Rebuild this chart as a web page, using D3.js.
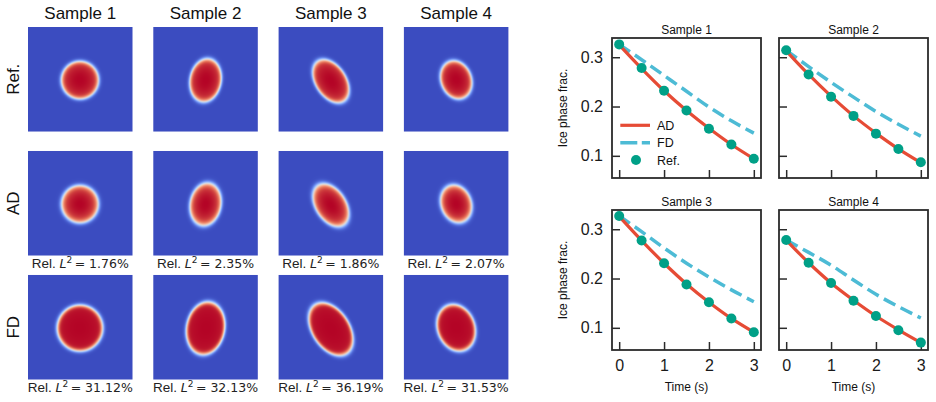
<!DOCTYPE html>
<html>
<head>
<meta charset="utf-8">
<script src="https://cdn.jsdelivr.net/npm/d3@7"></script>
<style>
body { margin: 0; background: #fff; }
svg { display: block; font-family: "Liberation Sans", Arial, Helvetica, sans-serif; }
</style>
</head>
<body>
<svg id="chart" width="936" height="402"></svg>
<script>
// ---- data ----
const samples = ['Sample 1', 'Sample 2', 'Sample 3', 'Sample 4'];
const methods = ['Ref.', 'AD', 'FD'];

// Rel. L2 errors (%) printed below the AD and FD rows
const errAD = ['1.76', '2.35', '1.86', '2.07'];
const errFD = ['31.12', '32.13', '36.19', '31.53'];

// ice region shape per sample (unit image coords, y down)
const centerX = [0.497, 0.500, 0.500, 0.500];
const centerY = [0.508, 0.510, 0.518, 0.505];
const tiltDeg = [0, -10, 33, 20];
const refMinor = [0.178, 0.149, 0.145, 0.146];
const refMajor = [0.180, 0.208, 0.228, 0.187];
const adMinor = [0.176, 0.148, 0.144, 0.145];
const adMajor = [0.179, 0.206, 0.226, 0.185];
const fdMinor = [0.217, 0.182, 0.177, 0.178];
const fdMajor = [0.220, 0.254, 0.278, 0.228];

// ice phase fraction vs time
const times = [0, 0.5, 1, 1.5, 2, 2.5, 3];
const refFrac = [
    [0.326, 0.278, 0.232, 0.192, 0.155, 0.123, 0.094],
    [0.314, 0.265, 0.220, 0.181, 0.145, 0.114, 0.087],
    [0.327, 0.277, 0.231, 0.188, 0.152, 0.119, 0.091],
    [0.278, 0.232, 0.191, 0.155, 0.124, 0.095, 0.070]
];
const adFrac = [
    [0.325, 0.277, 0.232, 0.192, 0.156, 0.123, 0.094],
    [0.313, 0.265, 0.221, 0.181, 0.146, 0.114, 0.086],
    [0.326, 0.277, 0.231, 0.189, 0.152, 0.119, 0.091],
    [0.278, 0.232, 0.191, 0.156, 0.124, 0.096, 0.070]
];
const fdFrac = [
    [0.326, 0.295, 0.263, 0.231, 0.199, 0.171, 0.146],
    [0.314, 0.281, 0.249, 0.219, 0.190, 0.164, 0.140],
    [0.327, 0.295, 0.262, 0.231, 0.203, 0.177, 0.153],
    [0.278, 0.253, 0.227, 0.197, 0.168, 0.143, 0.120]
];

const yTicks = [0.1, 0.2, 0.3];
const xTicks = [0, 1, 2, 3];

// ---- styles ----
const coolwarm = ['#3b4cc0', '#6282ea', '#8db0fe', '#b8d0f9', '#dddddd',
                  '#f5c4ad', '#f49a7b', '#de604d', '#b40426'];
const cAD = '#e64b35', cFD = '#4dbbd5', cRef = '#00a087';
const ink = '#2b2b2b';

const svg = d3.select('#chart');

// ==== left: field images ====
const colBand = d3.scaleBand().domain(samples).range([28, 508.4]).paddingInner(0.166);
const rowBand = d3.scaleBand().domain(methods).range([27, 379.5]).paddingInner(0.157);
const bw = colBand.bandwidth(), bh = rowBand.bandwidth();

const colorScale = d3.scaleLinear()
    .domain(d3.range(coolwarm.length).map(i => i / (coolwarm.length - 1)))
    .range(coolwarm)
    .interpolate(d3.interpolateRgb)
    .clamp(true);

const shapeFor = (m, i) => {
    if (m === 'Ref.') return { a: refMinor[i], b: refMajor[i], eps: 0.020, drop: 0.10 };
    if (m === 'AD') return { a: adMinor[i], b: adMajor[i], eps: 0.023, drop: 0.14 };
    return { a: fdMinor[i], b: fdMajor[i], eps: 0.020, drop: 0.03 };
};

// phase field on an n x n grid, painted cell by cell
const fieldImage = (m, i) => {
    const n = 210;
    const cell = d3.scaleLinear().domain([0, n]).range([0, 1]);
    const s = shapeFor(m, i);
    const th = tiltDeg[i] * Math.PI / 180;
    const R = Math.sqrt(s.a * s.b);
    const canvas = document.createElement('canvas');
    canvas.width = n; canvas.height = n;
    const ctx = canvas.getContext('2d');
    const img = ctx.createImageData(n, n);
    for (let yi = 0; yi < n; yi++) {
        for (let xi = 0; xi < n; xi++) {
            const dx = cell(xi + 0.5) - centerX[i];
            const dy = cell(yi + 0.5) - centerY[i];
            const u = dx * Math.cos(th) - dy * Math.sin(th);
            const v = dx * Math.sin(th) + dy * Math.cos(th);
            const r = Math.sqrt((u / s.a) ** 2 + (v / s.b) ** 2);
            const phi = 0.5 * (1 - Math.tanh((r - 1) * R / s.eps));
            const val = phi * (1 - s.drop * Math.min(r, 1.2) ** 2);
            const c = d3.rgb(colorScale(val));
            const k = (yi * n + xi) * 4;
            img.data[k] = c.r; img.data[k + 1] = c.g; img.data[k + 2] = c.b; img.data[k + 3] = 255;
        }
    }
    ctx.putImageData(img, 0, 0);
    return canvas.toDataURL();
};

const gLeft = svg.append('g');

methods.forEach(m => {
    samples.forEach((smp, i) => {
        gLeft.append('image')
            .attr('x', colBand(smp))
            .attr('y', rowBand(m))
            .attr('width', bw)
            .attr('height', bh)
            .attr('preserveAspectRatio', 'none')
            .attr('href', fieldImage(m, i));
    });
});

// column titles
gLeft.selectAll('.col-title')
    .data(samples)
    .join('text')
    .attr('class', 'col-title')
    .attr('x', d => colBand(d) + bw / 2)
    .attr('y', 19)
    .attr('text-anchor', 'middle')
    .attr('font-size', 17)
    .attr('fill', '#111')
    .text(d => d);

// row labels
gLeft.selectAll('.row-title')
    .data(methods)
    .join('text')
    .attr('class', 'row-title')
    .attr('transform', d => `translate(19,${rowBand(d) + bh / 2}) rotate(-90)`)
    .attr('text-anchor', 'middle')
    .attr('font-size', 17)
    .attr('fill', '#111')
    .text(d => d);

// Rel. L2 labels
const errLabel = (vals, baseY) => {
    samples.forEach((smp, i) => {
        const t = gLeft.append('text')
            .attr('x', colBand(smp) + bw / 2)
            .attr('y', baseY)
            .attr('text-anchor', 'middle')
            .attr('font-size', 13.5)
            .attr('fill', '#222');
        t.append('tspan').text('Rel. ');
        t.append('tspan')
            .attr('font-family', '"DejaVu Sans", sans-serif')
            .attr('font-style', 'italic')
            .attr('font-size', 12.5)
            .text('L');
        t.append('tspan')
            .attr('font-family', '"DejaVu Sans", sans-serif')
            .attr('font-size', 9)
            .attr('dy', -5)
            .text('2');
        t.append('tspan')
            .attr('font-family', '"DejaVu Sans", sans-serif')
            .attr('font-size', 12.5)
            .attr('dy', 5)
            .text('\u2009= ' + vals[i] + '%');
    });
};
errLabel(errAD, 268);
errLabel(errFD, 392);

// ==== right: ice phase fraction curves ====
const pw = 149, ph = 140;
const panelX = [612, 779];
const panelY = [38, 210];

const x = d3.scaleLinear().domain([-0.16, 3.16]).range([0, pw]);
const y = d3.scaleLinear().domain([0.055, 0.339]).range([ph, 0]);

const line = d3.line()
    .x(d => x(d.t))
    .y(d => y(d.v))
    .curve(d3.curveMonotoneX);

samples.forEach((smp, i) => {
    const col = i % 2, row = Math.floor(i / 2);
    const g = svg.append('g')
        .attr('transform', `translate(${panelX[col]},${panelY[row]})`);

    // y axis
    const ya = g.append('g')
        .call(d3.axisLeft(y)
            .tickValues(yTicks)
            .tickSizeInner(-8)
            .tickSizeOuter(0)
            .tickPadding(9)
            .tickFormat(col === 0 ? d3.format('.1f') : ''));
    // x axis
    const xa = g.append('g')
        .attr('transform', `translate(0,${ph})`)
        .call(d3.axisBottom(x)
            .tickValues(xTicks)
            .tickSizeInner(-8)
            .tickSizeOuter(0)
            .tickPadding(10)
            .tickFormat(row === 1 ? d3.format('d') : ''));
    [ya, xa].forEach(a => {
        a.select('.domain').remove();
        a.selectAll('line').attr('stroke', ink).attr('stroke-width', 1.5);
        a.selectAll('text')
            .attr('font-size', 16)
            .attr('fill', '#1a1a1a')
            .attr('font-family', '"Liberation Sans", Arial, sans-serif');
    });

    const dataOf = arr => times.map((t, k) => ({ t: t, v: arr[k] }));

    g.append('path')
        .datum(dataOf(fdFrac[i]))
        .attr('fill', 'none')
        .attr('stroke', cFD)
        .attr('stroke-width', 3.5)
        .attr('stroke-dasharray', '13,6')
        .attr('d', line);

    g.append('path')
        .datum(dataOf(adFrac[i]))
        .attr('fill', 'none')
        .attr('stroke', cAD)
        .attr('stroke-width', 3.2)
        .attr('d', line);

    g.selectAll('.ref-pt')
        .data(dataOf(refFrac[i]))
        .join('circle')
        .attr('class', 'ref-pt')
        .attr('cx', d => x(d.t))
        .attr('cy', d => y(d.v))
        .attr('r', 5)
        .attr('fill', cRef);

    // frame
    g.append('rect')
        .attr('width', pw)
        .attr('height', ph)
        .attr('fill', 'none')
        .attr('stroke', ink)
        .attr('stroke-width', 1.8);

    // title
    g.append('text')
        .attr('x', pw / 2)
        .attr('y', -4.5)
        .attr('text-anchor', 'middle')
        .attr('font-size', 12)
        .attr('fill', '#111')
        .text(smp);

    if (col === 0) {
        g.append('text')
            .attr('transform', `translate(-45,${ph / 2}) rotate(-90)`)
            .attr('text-anchor', 'middle')
            .attr('font-size', 12)
            .attr('fill', '#111')
            .text('Ice phase frac.');
    }
    if (row === 1) {
        g.append('text')
            .attr('x', pw / 2)
            .attr('y', ph + 41)
            .attr('text-anchor', 'middle')
            .attr('font-size', 12)
            .attr('fill', '#111')
            .text('Time (s)');
    }

    // legend in first panel
    if (i === 0) {
        const lg = g.append('g');
        const items = [
            { label: 'AD', y: 87.3 },
            { label: 'FD', y: 104.7 },
            { label: 'Ref.', y: 122 }
        ];
        lg.append('line')
            .attr('x1', 8.3).attr('x2', 38)
            .attr('y1', items[0].y).attr('y2', items[0].y)
            .attr('stroke', cAD).attr('stroke-width', 3.2);
        lg.append('line')
            .attr('x1', 8.3).attr('x2', 38)
            .attr('y1', items[1].y).attr('y2', items[1].y)
            .attr('stroke', cFD).attr('stroke-width', 3.5)
            .attr('stroke-dasharray', '17,4.5');
        lg.append('circle')
            .attr('cx', 24).attr('cy', items[2].y)
            .attr('r', 5).attr('fill', cRef);
        lg.selectAll('text')
            .data(items)
            .join('text')
            .attr('x', 45)
            .attr('y', d => d.y)
            .attr('dy', '0.36em')
            .attr('font-size', 12.5)
            .attr('fill', '#111')
            .text(d => d.label);
    }
});
</script>
</body>
</html>
